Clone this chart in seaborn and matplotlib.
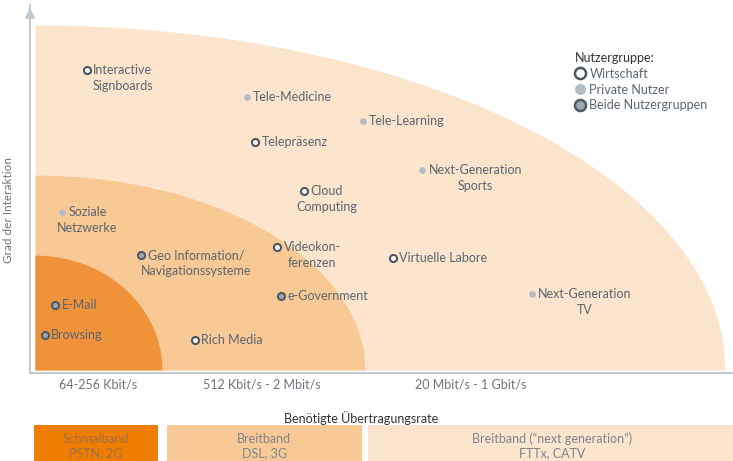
import numpy as np
import pandas as pd
import seaborn as sns
import matplotlib.pyplot as plt
from matplotlib.lines import Line2D

# --- Data ---
# x: required transmission rate (0..100 scale), y: degree of interaction (0..100 scale)
app_names = [
    "Interactive\nSignboards", "Tele-Medicine", "Tele-Learning", "Telepräsenz",
    "Next-Generation\nSports", "Cloud\nComputing", "Soziale\nNetzwerke",
    "Videokon-\nferenzen", "Geo Information/\nNavigationssysteme", "Virtuelle Labore",
    "e-Government", "Next-Generation\nTV", "E-Mail", "Browsing", "Rich Media",
]
app_rate = [7.5, 30.7, 47.5, 31.9, 56.1, 39.0, 3.9, 35.1, 15.4, 51.9, 35.7, 72.0, 2.9, 1.4, 23.2]
app_interaction = [87.0, 79.1, 72.2, 66.1, 58.0, 51.9, 45.8, 35.7, 33.3, 32.5, 21.4, 22.0, 18.8, 10.1, 8.7]
app_group = [
    "Wirtschaft", "Private Nutzer", "Private Nutzer", "Wirtschaft",
    "Private Nutzer", "Wirtschaft", "Private Nutzer",
    "Wirtschaft", "Beide Nutzergruppen", "Wirtschaft",
    "Beide Nutzergruppen", "Private Nutzer", "Beide Nutzergruppen", "Beide Nutzergruppen", "Wirtschaft",
]

# quarter-ellipse zones (outer to inner)
zone_rx = [100.0, 47.8, 18.4]
zone_ry = [100.0, 56.5, 33.3]

# bandwidth classes below the chart
band_labels = ["Schmalband\nPSTN, 2G", "Breitband\nDSL, 3G",
               "Breitband (\u201cnext generation\u201c)\nFTTx, CATV"]
band_start = [-0.15, 19.1, 48.3]
band_end = [17.8, 47.4, 101.5]

tick_pos = [9.1, 32.8, 63.2]
tick_labels = ["64-256 Kbit/s", "512 Kbit/s - 2 Mbit/s", "20 Mbit/s - 1 Gbit/s"]

df = pd.DataFrame({"name": app_names, "rate": app_rate,
                   "interaction": app_interaction, "group": app_group})

# --- Styling ---
sns.set_theme(style="white")
plt.rcParams["font.family"] = ["Lato", "DejaVu Sans"]

ZONE_COLORS = ["#fde4cc", "#f9c995", "#f0923a"]
BAND_COLORS = ["#ef7d00", "#f9c995", "#fde4cc"]
BAND_TEXT = ["#a0704e", "#7d858c", "#7d858c"]
LABEL_COLOR = "#5b6670"
AXIS_COLOR = "#c3cbd2"

GROUP_STYLE = {
    "Wirtschaft": dict(fc="white", ec="#4b5761", lw=1.5, s=26),
    "Private Nutzer": dict(fc="#b5bec6", ec="#b5bec6", lw=0.0, s=24),
    "Beide Nutzergruppen": dict(fc="#9ea8b0", ec="#4f5b65", lw=1.5, s=26),
}

W, H = 733, 461
fig = plt.figure(figsize=(W / 100, H / 100), dpi=100)
ax = fig.add_axes([30 / W, 88 / H, 703 / W, 368 / H])
ax.set_xlim(-0.725, 101.16)
ax.set_ylim(-0.87, 105.8)

# zones
for rx, ry, col in zip(zone_rx, zone_ry, ZONE_COLORS):
    xs = np.linspace(0, rx, 400)
    ys = ry * np.sqrt(np.clip(1 - (xs / rx) ** 2, 0, None))
    ax.fill_between(xs, 0, ys, color=col, lw=0, zorder=1)

# points
for grp, st in GROUP_STYLE.items():
    sub = df[df["group"] == grp]
    sns.scatterplot(data=sub, x="rate", y="interaction", ax=ax, color=st["fc"],
                    edgecolor=st["ec"], linewidth=st["lw"], s=st["s"], zorder=3, legend=False)

# labels: first line right of the marker, further lines centered under it
fig.canvas.draw()
renderer = fig.canvas.get_renderer()
for _, row in df.iterrows():
    lines = row["name"].split("\n")
    t = ax.annotate(lines[0], (row["rate"], row["interaction"]), xytext=(4.6, 0),
                    textcoords="offset points", ha="left", va="center",
                    fontsize=9, color=LABEL_COLOR, zorder=4)
    if len(lines) > 1:
        bb = t.get_window_extent(renderer)
        cx = (bb.x0 + bb.x1) / 2
        px, py = ax.transData.transform((row["rate"], row["interaction"]))
        for i, ln in enumerate(lines[1:], start=1):
            dx, dy = ax.transData.inverted().transform((cx, py - 16 * i))
            ax.text(dx, dy, ln, ha="center", va="center", fontsize=9,
                    color=LABEL_COLOR, zorder=4)

# axes
sns.despine(ax=ax)
for side in ["left", "bottom"]:
    ax.spines[side].set_color(AXIS_COLOR)
    ax.spines[side].set_linewidth(1.5)
ax.annotate("", xy=(0, 1.0), xytext=(0, 0.95), xycoords="axes fraction",
            arrowprops=dict(arrowstyle="-|>", color=AXIS_COLOR, lw=1.5, mutation_scale=14))
ax.set_yticks([])
ax.set_xticks(tick_pos)
ax.set_xticklabels(tick_labels, fontsize=9, color="#6b747c")
ax.tick_params(axis="x", length=0, pad=4)
ax.set_xlabel("Benötigte Übertragungsrate", fontsize=9, color="#333333")
ax.xaxis.set_label_coords(0.471, -0.103)
ax.set_ylabel("Grad der Interaktion", fontsize=8.5, color="#6b747c")
ax.yaxis.set_label_coords(-0.0228, 0.443)

# legend
handles = [Line2D([], [], ls="", marker="o", markersize=8,
                  markerfacecolor=st["fc"], markeredgecolor=st["ec"],
                  markeredgewidth=1.8 if st["lw"] else 0)
           for st in GROUP_STYLE.values()]
leg = ax.legend(handles, list(GROUP_STYLE.keys()), title="Nutzergruppe:",
                loc="upper left", bbox_to_anchor=(575 / W, 1 - 52 / H),
                bbox_transform=fig.transFigure, frameon=False, fontsize=9,
                title_fontsize=9, alignment="left", borderpad=0, borderaxespad=0,
                handlelength=0.8, handletextpad=0.35, labelspacing=0.3)
leg.get_title().set_color("#333333")
for txt in leg.get_texts():
    txt.set_color(LABEL_COLOR)

# bandwidth boxes
bax = fig.add_axes([30 / W, 0, 703 / W, 36 / H])
bax.set_xlim(ax.get_xlim())
bax.set_ylim(0, 1)
widths = [e - s for s, e in zip(band_start, band_end)]
bax.barh([0.5] * 3, widths, left=band_start, height=1.0, color=BAND_COLORS, lw=0)
for s, w, lab, tc in zip(band_start, widths, band_labels, BAND_TEXT):
    bax.text(s + w / 2, 0.42, lab, ha="center", va="center", fontsize=9,
             color=tc, linespacing=1.25)
bax.axis("off")

fig.savefig("out.png", dpi=100)
